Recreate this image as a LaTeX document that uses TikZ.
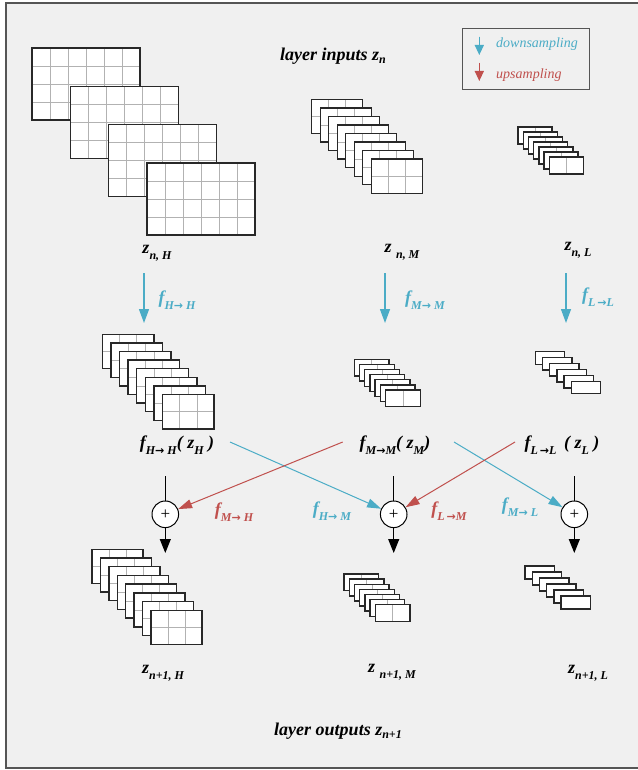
\documentclass[tikz,border=0pt]{standalone}
\usepackage{fontspec}
\setmainfont{Liberation Serif}
\newfontfamily\arrowfont{DejaVu Sans}
\usetikzlibrary{arrows.meta}

\definecolor{dsblue}{RGB}{75,172,198}
\definecolor{usred}{RGB}{192,80,77}
\definecolor{panel}{RGB}{240,240,240}
\definecolor{edge}{RGB}{40,40,40}
\definecolor{framegray}{RGB}{85,85,85}

% lowered subscripts for the labels
\newcommand\sbs[1]{\raisebox{-6pt}{\fontsize{12}{12}\selectfont #1}}
\newcommand\tsb[1]{\raisebox{-3pt}{\fontsize{12}{12}\selectfont #1}}
\newcommand\arr{{\arrowfont\upshape\fontsize{11}{11}\selectfont →}}

% stack of feature maps: x, y, width, height, count, dx, dy, columns, rows
\newcommand\sheetstack[9]{%
  \foreach \k in {1,...,#5}{%
    \pgfmathsetmacro\sx{#1+(\k-1)*#6}%
    \pgfmathsetmacro\sy{#2+(\k-1)*#7}%
    \fill[white] (\sx,\sy) rectangle ++(#3,#4);
    \foreach \c in {1,...,#8}{\draw[gridline] ({\sx+\c*#3/#8},\sy) -- ++(0,#4);}
    \foreach \r in {1,...,#9}{\draw[gridline] (\sx,{\sy+\r*#4/#9}) -- ++(#3,0);}
    \draw[sheetedge] (\sx,\sy) rectangle ++(#3,#4);
  }}

\begin{document}
\begin{tikzpicture}[x=1pt,y=-1pt,
  sheetedge/.style={draw=edge, line width=1.4pt},
  gridline/.style={draw=gray!60, line width=0.45pt},
  lbl/.style={font=\fontsize{18}{18}\selectfont\bfseries\itshape, inner sep=0pt},
  title/.style={font=\fontsize{18}{18}\selectfont\bfseries\itshape, inner sep=0pt},
  legtext/.style={font=\fontsize{14}{14}\selectfont\itshape, inner sep=0pt, anchor=west},
  sumnode/.style={circle, draw=black, fill=white, line width=1pt, minimum size=26.6pt, inner sep=0pt, font=\fontsize{17}{17}\selectfont},
  bigdown/.style={draw=dsblue, line width=1.3pt, -{Triangle[length=14pt,width=10pt]}},
  outarrow/.style={draw=black, line width=1.1pt, -{Triangle[length=14pt,width=11pt]}},
  feed/.style={draw=black, line width=1.1pt},
  crossblue/.style={draw=dsblue, line width=1pt, -{Triangle[length=14pt,width=9pt]}},
  crossred/.style={draw=usred, line width=1pt, -{Triangle[length=14pt,width=9pt]}},
  legarrow/.style={line width=1.3pt, -{Triangle[length=10pt,width=9pt]}}]

\useasboundingbox (0,0) rectangle (637,770);
\fill[white] (0,0) rectangle (637,770);
\filldraw[fill=panel, draw=framegray, line width=1.6pt] (6,3) rectangle (650,768);

% legend
\draw[draw=framegray, line width=1.1pt] (462.7,28.7) rectangle (589.3,89.3);
\coordinate (ldA) at (479.3,36.7);
\coordinate (ldB) at (479.3,55);
\coordinate (luA) at (479.3,63);
\coordinate (luB) at (479.3,81);
\draw[legarrow, draw=dsblue, fill=dsblue] (ldA) -- (ldB);
\draw[legarrow, draw=usred, fill=usred] (luA) -- (luB);
\node[legtext, text=dsblue] (legdown) at (496,44) {downsampling};
\node[legtext, text=usred] (legup) at (496,75) {upsampling};

% titles
\node[title] (intitle) at (333,56) {layer inputs z\tsb{n}};
\node[title] (outtitle) at (338,731) {layer outputs z\tsb{n+1}};

% layer inputs
\sheetstack{32}{48}{108}{72}{4}{38.3}{38.3}{6}{4}
\sheetstack{311.7}{99.7}{51}{34}{8}{8.5}{8.5}{3}{2}
\sheetstack{518}{127}{34}{17}{7}{5.2}{5}{2}{1}

\node[lbl] (znH) at (157,253) {z\sbs{n, H}};
\node[lbl] (znM) at (402,252) {z \sbs{n, M}};
\node[lbl] (znL) at (578,250) {z\sbs{n, L}};

% same-resolution transforms
\coordinate (aH0) at (144,273); \coordinate (aH1) at (144,323);
\coordinate (aM0) at (385,273); \coordinate (aM1) at (385,323);
\coordinate (aL0) at (566,273); \coordinate (aL1) at (566,323);
\draw[bigdown] (aH0) -- (aH1);
\draw[bigdown] (aM0) -- (aM1);
\draw[bigdown] (aL0) -- (aL1);
\node[lbl, text=dsblue] (fHH) at (177,300) {f\sbs{H\arr\ H}};
\node[lbl, text=dsblue] (fMM) at (425,300) {f\sbs{M\arr\ M}};
\node[lbl, text=dsblue] (fLL) at (598,297) {f\sbs{L\,\arr L}};

% transformed maps
\sheetstack{102.3}{334.3}{51.5}{34.4}{8}{8.6}{8.6}{3}{2}
\sheetstack{354.3}{359.3}{34.7}{16.7}{7}{5.2}{5.1}{2}{1}
\sheetstack{535.3}{351.7}{29.4}{12.5}{6}{7.2}{5.9}{1}{1}

\node[lbl] (gH) at (177,445) {f\sbs{H\arr\ H}( z\sbs{H} )};
\node[lbl] (gM) at (395,445) {f\sbs{M\arr M}( z\sbs{M})};
\node[lbl] (gL) at (562,445) {f\sbs{L\,\arr L}\ \,( z\sbs{L}\ )};

% summation nodes
\node[sumnode] (sH) at (165.3,514.3) {+};
\node[sumnode] (sM) at (393.7,514.3) {+};
\node[sumnode] (sL) at (574.3,514.3) {+};

\coordinate (tH) at (165.3,476); \coordinate (tM) at (393.7,476); \coordinate (tL) at (574.3,476);
\draw[feed] (tH) -- (sH);
\draw[feed] (tM) -- (sM);
\draw[feed] (tL) -- (sL);

\coordinate (oH) at (165.3,553); \coordinate (oM) at (393.7,553); \coordinate (oL) at (574.3,553);
\draw[outarrow] (sH) -- (oH);
\draw[outarrow] (sM) -- (oM);
\draw[outarrow] (sL) -- (oL);

% cross-resolution exchanges
\coordinate (cHM) at (230,442);
\coordinate (cMH) at (342.7,442);
\coordinate (cML) at (454,442);
\coordinate (cLM) at (515,442);
\draw[crossblue] (cHM) -- (sM);
\draw[crossred] (cMH) -- (sH);
\draw[crossblue] (cML) -- (sL);
\draw[crossred] (cLM) -- (sM);

\node[lbl, text=usred] (fMH) at (234,512) {f\sbs{M\arr\ H}};
\node[lbl, text=dsblue] (fHM) at (332,511) {f\sbs{H\arr\ M}};
\node[lbl, text=usred] (fLM) at (449,511) {f\sbs{L\,\arr M}};
\node[lbl, text=dsblue] (fML) at (520,507) {f\sbs{M\arr\ L}};

% layer outputs
\sheetstack{92}{549.3}{51}{34}{8}{8.4}{8.7}{3}{2}
\sheetstack{344}{574}{34.7}{16.7}{7}{5.2}{5.1}{2}{1}
\sheetstack{525}{566}{29.4}{13}{6}{7.2}{6}{1}{1}

\node[lbl] (zoH) at (163,673) {z\sbs{n+1, H}};
\node[lbl] (zoM) at (392,672) {z \sbs{n+1, M}};
\node[lbl] (zoL) at (588,673) {z\sbs{n+1, L}};

\end{tikzpicture}
\end{document}
